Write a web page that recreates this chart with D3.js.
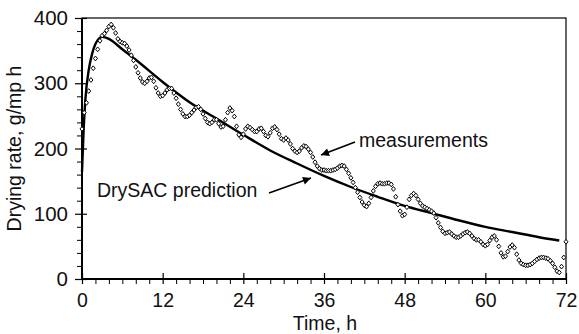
<!DOCTYPE html>
<html>
<head>
<meta charset="utf-8">
<script src="https://cdn.jsdelivr.net/npm/d3@7"></script>
<style>
  html, body { margin: 0; padding: 0; background: #fff; }
  svg { display: block; font-family: "Liberation Sans", Arial, sans-serif; }
</style>
</head>
<body>
<svg id="chart" width="579" height="334"></svg>
<script>
// ---- data ----
const measuredStepHours = 1 / 3;
const measuredRate = [
  230,255,270,288,305,323,338,352,365,373,376,381,
  387,390,385,377,368,364,362,361,357,351,343,335,
  325,316,308,302,300,303,308,309,303,293,285,280,
  281,285,290,292,292,285,277,268,260,253,249,249,
  251,255,259,263,264,260,253,246,240,238,240,244,
  244,238,233,234,244,255,262,258,249,234,221,217,
  222,230,234,232,229,226,226,230,231,226,220,218,
  224,231,233,229,222,215,213,216,213,207,200,196,
  194,196,201,204,203,199,194,187,179,173,169,167,
  167,166,166,166,167,168,170,173,174,173,168,162,
  155,148,140,133,125,118,113,111,116,125,135,142,
  146,147,146,146,147,147,145,138,126,114,104,97,
  99,110,122,128,131,128,122,116,112,110,108,106,
  104,101,94,86,79,73,70,71,72,69,66,64,
  64,66,69,71,72,70,66,62,60,60,57,53,
  51,53,59,64,66,60,50,40,34,35,42,49,
  52,48,38,29,24,22,21,21,22,24,27,30,
  32,33,33,32,31,28,24,18,12,10,19,33,
  57
];
const predictedTime = [0, 0.25, 0.5, 1, 1.5, 2, 3, 4, 6, 8, 12, 16, 20, 24, 28, 32, 36, 40, 44, 48, 52, 56, 60, 64, 68, 71];
const predictedRate = [164, 230, 275, 320, 345, 360, 371, 368, 352, 336, 302, 271, 246, 221, 197, 177, 158, 141, 126, 112, 101, 90, 80, 72, 64, 59];
const xMajorTicks = [0, 12, 24, 36, 48, 60, 72];
const yMajorTicks = [0, 100, 200, 300, 400];
const xLabel = "Time, h";
const yLabel = "Drying rate, g/mp h";
const annotations = [
  { text: "measurements", tx: 359, ty: 147, from: [355, 142], to: [321, 155] },
  { text: "DrySAC prediction", tx: 97, ty: 197, from: [269, 193], to: [311, 178] }
];

// ---- layout ----
const svg = d3.select("#chart");
const x = d3.scaleLinear().domain([0, 72]).range([82, 566]);
const y = d3.scaleLinear().domain([0, 400]).range([279, 18]);
const FONT = 19.5;

// frame
svg.append("rect")
  .attr("x", x(0)).attr("y", y(400))
  .attr("width", x(72) - x(0)).attr("height", y(0) - y(400))
  .attr("fill", "none").attr("stroke", "#000").attr("stroke-width", 1.2);

// minor ticks
const xMinor = d3.range(0, 73, 2).filter(v => v % 12 !== 0);
const yMinor = d3.range(0, 401, 20).filter(v => v % 100 !== 0);

const gx = svg.append("g").attr("transform", `translate(0,${y(0)})`);
gx.call(d3.axisBottom(x).tickValues(xMinor).tickSize(5).tickFormat(""));
gx.call(g => g.select(".domain").remove());
const gxMaj = svg.append("g").attr("transform", `translate(0,${y(0)})`);
gxMaj.call(d3.axisBottom(x).tickValues(xMajorTicks).tickSize(5).tickPadding(9).tickFormat(d3.format("d")));
gxMaj.select(".domain").attr("stroke-width", 2).attr("d", `M${x(0)},0H${x(72)}`);
gxMaj.selectAll(".tick line").attr("y1", -6).attr("y2", 5).attr("stroke-width", 1.2);
gxMaj.selectAll(".tick text").attr("font-size", FONT).attr("fill", "#111").attr("font-family", "Liberation Sans, Arial, sans-serif");

const gy = svg.append("g").attr("transform", `translate(${x(0)},0)`);
gy.call(d3.axisLeft(y).tickValues(yMinor).tickSize(5).tickFormat(""));
gy.call(g => g.select(".domain").remove());
const gyMaj = svg.append("g").attr("transform", `translate(${x(0)},0)`);
gyMaj.call(d3.axisLeft(y).tickValues(yMajorTicks).tickSize(7).tickPadding(7).tickFormat(d3.format("d")));
gyMaj.select(".domain").attr("stroke-width", 2).attr("d", `M0,${y(0)}V${y(400)}`);
gyMaj.selectAll(".tick line").attr("x1", 5).attr("stroke-width", 1.2);
gyMaj.selectAll(".tick text").attr("font-size", FONT + 1).attr("fill", "#111").attr("font-family", "Liberation Sans, Arial, sans-serif");
svg.selectAll(".tick line").attr("stroke", "#000");

// prediction line
const line = d3.line().x(d => x(d[0])).y(d => y(d[1])).curve(d3.curveMonotoneX);
svg.append("path")
  .datum(predictedTime.map((t, i) => [t, predictedRate[i]]))
  .attr("d", line)
  .attr("fill", "none").attr("stroke", "#000").attr("stroke-width", 2.4);

// measurement diamonds
const diamond = "M0,-2.4L2,0L0,2.4L-2,0Z";
svg.append("g").selectAll("path")
  .data(measuredRate.map((v, i) => [i * measuredStepHours, v]))
  .join("path")
  .attr("d", diamond)
  .attr("transform", d => `translate(${x(d[0])},${y(d[1])})`)
  .attr("fill", "#fff").attr("stroke", "#000").attr("stroke-width", 1);

// axis titles
svg.append("text").attr("x", (x(0) + x(72)) / 2 + 1).attr("y", 330)
  .attr("text-anchor", "middle").attr("font-size", FONT).attr("fill", "#111").text(xLabel);
svg.append("text").attr("transform", `translate(21,${y(200) + 0})rotate(-90)`)
  .attr("text-anchor", "middle").attr("font-size", FONT).attr("fill", "#111").text(yLabel);

// annotations with arrows
const defs = svg.append("defs");
defs.append("marker").attr("id", "arrow").attr("viewBox", "0 0 10 10")
  .attr("refX", 10).attr("refY", 5).attr("markerWidth", 10).attr("markerHeight", 8)
  .attr("markerUnits", "userSpaceOnUse").attr("orient", "auto")
  .append("path").attr("d", "M0,0L10,5L0,10Z").attr("fill", "#000");
annotations.forEach(a => {
  svg.append("text").attr("x", a.tx).attr("y", a.ty).attr("font-size", FONT).attr("fill", "#111").text(a.text);
  svg.append("line").attr("x1", a.from[0]).attr("y1", a.from[1]).attr("x2", a.to[0]).attr("y2", a.to[1])
    .attr("stroke", "#000").attr("stroke-width", 1.6).attr("marker-end", "url(#arrow)");
});
</script>
</body>
</html>
